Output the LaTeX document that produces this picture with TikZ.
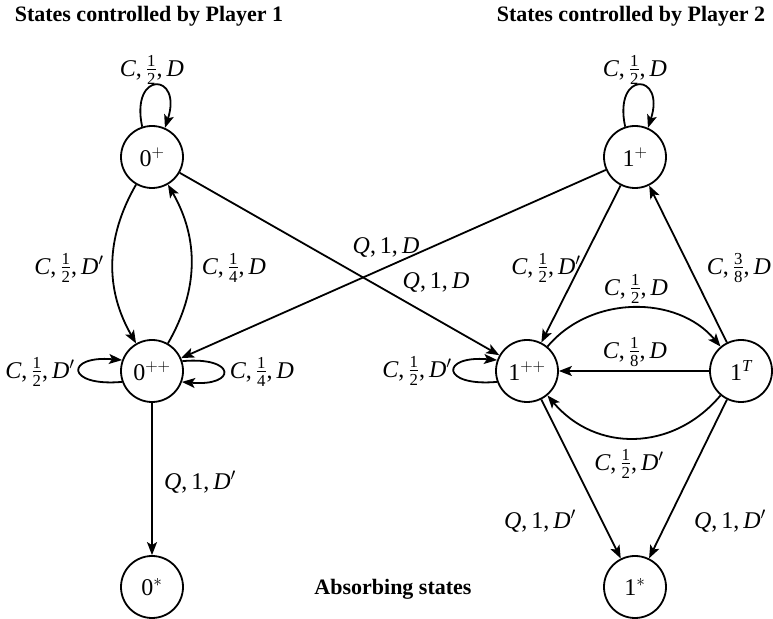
\documentclass[tikz,border=0pt]{standalone}
\usepackage{amsmath}
\usepackage{fontspec}
\setmainfont{Liberation Serif}
\usetikzlibrary{arrows.meta}
\newcommand\fr[2]{\ensuremath{\tfrac{\text{#1}}{\text{#2}}}}
\newcommand\Dp{\textit{D}\/$'$}
\newcommand\lab[3]{\textit{#1},\,#2,\,#3}
\begin{document}
\begin{tikzpicture}[x=1bp,y=1bp,
  every node/.style={font=\fontsize{24bp}{28bp}\selectfont},
  st/.style={circle,draw,line width=1.8bp,minimum size=62bp,inner sep=0pt},
  ar/.style={line width=1.8bp,-{Stealth[length=13bp,width=10bp,inset=3bp]}},
  ttl/.style={font=\fontsize{22bp}{26bp}\selectfont\bfseries},
  lb/.style={inner sep=0pt}]
\useasboundingbox (0,0) rectangle (773,619);
% titles
\node[ttl,anchor=base] (t1) at (149,597) {States controlled by Player 1};
\node[ttl,anchor=base] (t2) at (631,597) {States controlled by Player 2};
\node[ttl] (t3) at (393,30) {Absorbing states};
% states
\node[st] (0p)  at (152,462) {0$^{+}$};
\node[st] (0pp) at (152,248) {0$^{++}$};
\node[st] (0s)  at (152,32)  {0$^{*}$};
\node[st] (1p)  at (635,462) {1$^{+}$};
\node[st] (1pp) at (527,248) {1$^{++}$};
\node[st] (1T)  at (741,248) {1$^{\textit{T}}$};
\node[st] (1s)  at (635,32)  {1$^{*}$};
% player 1
\draw[ar] (0p.108) to[out=102,in=72,distance=58bp] (0p.66)
  node[lb] at (152,549) {\lab{C}{\fr12}{\textit{D}}};
\draw[ar] (0p) to[out=240,in=120] (0pp)
  node[lb] at (69,351) {\lab{C}{\fr12}{\Dp}};
\draw[ar] (0pp) to[out=60,in=-60] (0p)
  node[lb] at (234,351) {\lab{C}{\fr14}{\textit{D}}};
\draw[ar] (0pp.200) to[out=185,in=175,distance=57bp] (0pp.160)
  node[lb] at (40,247) {\lab{C}{\fr12}{\Dp}};
\draw[ar] (0pp.18) to[out=5,in=-5,distance=55bp] (0pp.-20)
  node[lb] at (262,247) {\lab{C}{\fr14}{\textit{D}}};
\draw[ar] (0pp) -- (0s)
  node[lb] at (200,137) {\lab{Q}{1}{\Dp}};
% crossing
\draw[ar] (1p) -- (0pp)
  node[lb] at (386,371) {\lab{Q}{1}{\textit{D}}};
\draw[ar] (0p) -- (1pp)
  node[lb] at (436,336) {\lab{Q}{1}{\textit{D}}};
% player 2
\draw[ar] (1p.108) to[out=102,in=72,distance=58bp] (1p.66)
  node[lb] at (635,549) {\lab{C}{\fr12}{\textit{D}}};
\draw[ar] (1p) -- (1pp)
  node[lb] at (546,351) {\lab{C}{\fr12}{\Dp}};
\draw[ar] (1T) -- (1p)
  node[lb] at (739,351) {\lab{C}{\fr38}{\textit{D}}};
\draw[ar] (1pp) to[out=50,in=130] (1T)
  node[lb] at (636,330) {\lab{C}{\fr12}{\textit{D}}};
\draw[ar] (1T) -- (1pp)
  node[lb] at (635,267) {\lab{C}{\fr18}{\textit{D}}};
\draw[ar] (1T) to[out=230,in=310,looseness=1.1] (1pp)
  node[lb] at (629,155) {\lab{C}{\fr12}{\Dp}};
\draw[ar] (1pp.200) to[out=185,in=175,distance=57bp] (1pp.160)
  node[lb] at (417,248) {\lab{C}{\fr12}{\Dp}};
\draw[ar] (1pp) -- (1s)
  node[lb] at (540,98) {\lab{Q}{1}{\Dp}};
\draw[ar] (1T) -- (1s)
  node[lb] at (730,98) {\lab{Q}{1}{\Dp}};
\end{tikzpicture}
\end{document}
